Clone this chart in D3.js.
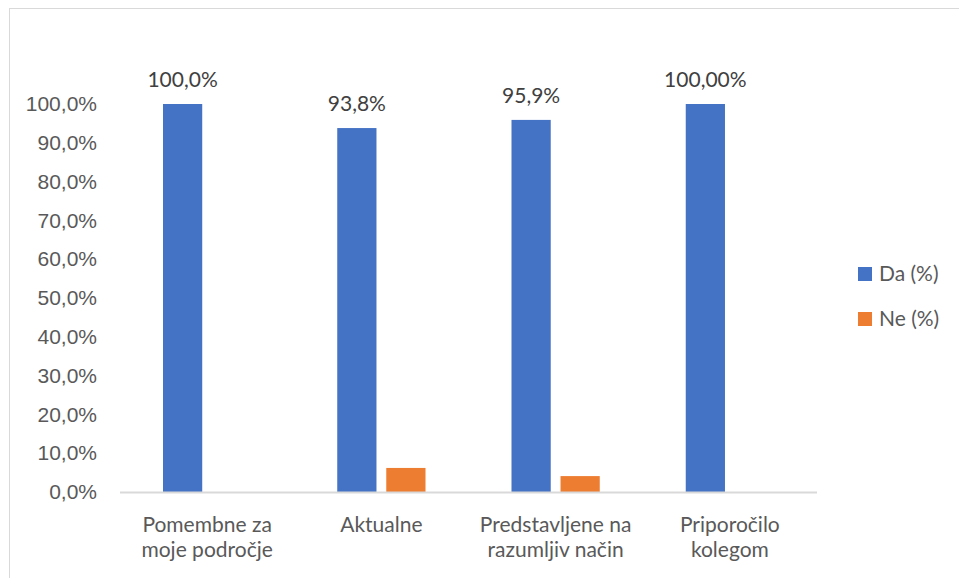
<!DOCTYPE html>
<html>
<head>
<meta charset="utf-8">
<script src="https://cdn.jsdelivr.net/npm/d3@7"></script>
<style>
  html, body { margin: 0; padding: 0; background: #fff; }
  svg { display: block; font-family: Lato, "Open Sans", sans-serif; }
</style>
</head>
<body>
<svg id="chart" width="959" height="578"></svg>
<script>
// chart data
const categories = [
  ["Pomembne za", "moje področje"],
  ["Aktualne"],
  ["Predstavljene na", "razumljiv način"],
  ["Priporočilo", "kolegom"]
];
const seriesNames = ["Da (%)", "Ne (%)"];
const daValues = [100.0, 93.8, 95.9, 100.0];
const neValues = [0, 6.2, 4.1, 0];
const daLabels = ["100,0%", "93,8%", "95,9%", "100,00%"];
const yTicks = [0, 10, 20, 30, 40, 50, 60, 70, 80, 90, 100];

const COLORS = ["#4472C4", "#ED7D31"];
const FS = 21;

const svg = d3.select("#chart");

// outer chart frame (cropped on right and bottom in the reference)
svg.append("rect")
  .attr("x", 9.5).attr("y", 8.5)
  .attr("width", 980).attr("height", 600)
  .attr("fill", "#fff")
  .attr("stroke", "#d9d9d9").attr("stroke-width", 1);

const plot = { left: 120, right: 817, top: 104, bottom: 492 };

const keys = categories.map((c) => c.join(" "));
const x0 = d3.scaleBand().domain(keys).range([plot.left, plot.right]);
const x1 = d3.scaleBand().domain(seriesNames)
  .range([43, x0.bandwidth() - 43]).paddingInner(0.2);
const y = d3.scaleLinear().domain([0, 100]).range([plot.bottom, plot.top]);

// y axis labels
const yAxis = svg.append("g")
  .attr("transform", `translate(${plot.left - 23},0)`)
  .call(d3.axisLeft(y).tickValues(yTicks).tickSize(0).tickPadding(0)
    .tickFormat((d) => d.toFixed(1).replace(".", ",") + "%"));
yAxis.select(".domain").remove();
yAxis.selectAll("text")
  .attr("fill", "#595959").attr("font-size", FS);

const rows = keys.map((k, i) => ({ key: k, lines: categories[i], vals: [daValues[i], neValues[i]], label: daLabels[i] }));

const groups = svg.append("g").selectAll("g.cat").data(rows).join("g")
  .attr("class", "cat")
  .attr("transform", (d) => `translate(${x0(d.key)},0)`);

groups.selectAll("rect").data((d) => d.vals.map((v, j) => ({ s: seriesNames[j], v, j })))
  .join("rect")
  .filter((d) => d.v > 0)
  .attr("x", (d) => x1(d.s))
  .attr("width", x1.bandwidth())
  .attr("y", (d) => y(d.v))
  .attr("height", (d) => y(0) - y(d.v))
  .attr("fill", (d) => COLORS[d.j]);

// data labels on Da bars
groups.append("text")
  .attr("x", x1("Da (%)") + x1.bandwidth() / 2)
  .attr("y", (d) => y(d.vals[0]) - 17)
  .attr("text-anchor", "middle")
  .attr("fill", "#404040").attr("font-size", FS)
  .text((d) => d.label);

// x axis line
svg.append("line")
  .attr("x1", plot.left).attr("x2", plot.right)
  .attr("y1", plot.bottom + 0.5).attr("y2", plot.bottom + 0.5)
  .attr("stroke", "#d9d9d9").attr("stroke-width", 2);

// category labels
groups.append("text")
  .attr("text-anchor", "middle")
  .attr("fill", "#595959").attr("font-size", FS)
  .selectAll("tspan").data((d) => d.lines).join("tspan")
  .attr("x", x0.bandwidth() / 2)
  .attr("y", (d, i) => 532 + i * 25)
  .text((d) => d);

// legend
const legend = svg.append("g").selectAll("g").data(seriesNames).join("g")
  .attr("transform", (d, i) => `translate(858,${267 + i * 45})`);
legend.append("rect").attr("width", 14).attr("height", 14)
  .attr("fill", (d, i) => COLORS[i]);
legend.append("text").attr("x", 21).attr("y", 7).attr("dy", "0.35em")
  .attr("fill", "#595959").attr("font-size", FS)
  .text((d) => d);
</script>
</body>
</html>
